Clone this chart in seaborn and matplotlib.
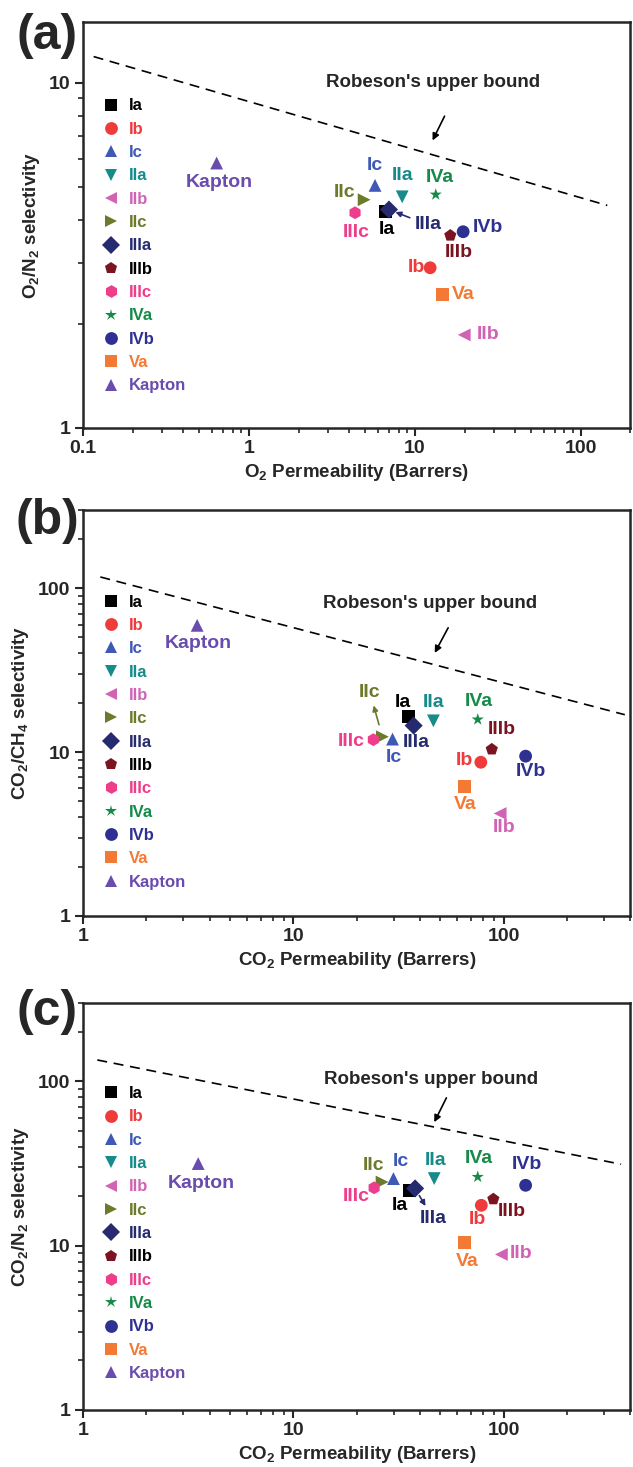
import numpy as np
import pandas as pd
import seaborn as sns
import matplotlib.pyplot as plt
from matplotlib import font_manager
from matplotlib.ticker import FuncFormatter, NullFormatter

names = ["Ia", "Ib", "Ic", "IIa", "IIb", "IIc", "IIIa", "IIIb", "IIIc", "IVa", "IVb", "Va", "Kapton"]
colors = ["#000000", "#ef3b3b", "#3d59b5", "#178a8a", "#d163b4", "#6b7b2b", "#262a6e",
          "#7a1420", "#ee3d8b", "#168a48", "#2e3192", "#f37a35", "#6a4cae"]
legend_colors = ["#000000", "#ef3b3b", "#3d59b5", "#178a8a", "#d163b4", "#6b7b2b", "#262a6e",
                 "#000000", "#ee3d8b", "#168a48", "#2e3192", "#f37a35", "#6a4cae"]
markers = ["s", "o", "^", "v", "<", ">", "D", "p", "h", "*", "o", "s", "^"]

# (a) O2 permeability (Barrers) vs O2/N2 selectivity
o2_perm = [6.7, 12.4, 5.77, 8.41, 19.9, 4.96, 7.0, 16.4, 4.37, 13.4, 19.6, 14.7, 0.64]
o2_n2_sel = [4.24, 2.91, 5.04, 4.67, 1.86, 4.58, 4.29, 3.61, 4.20, 4.74, 3.70, 2.43, 5.85]

# (b) CO2 permeability vs CO2/CH4 selectivity
co2_perm_b = [35.3, 77.8, 29.6, 46.3, 96.1, 26.5, 37.3, 87.7, 24.0, 75.2, 127, 65.3, 3.49]
co2_ch4_sel = [16.5, 8.67, 12.0, 15.5, 4.22, 12.4, 14.5, 10.4, 11.9, 15.8, 9.44, 6.20, 59.3]

# (c) CO2 permeability vs CO2/N2 selectivity
co2_perm_c = [35.5, 78.2, 29.9, 46.7, 97.4, 26.4, 37.9, 89.2, 24.2, 75.2, 127, 65.0, 3.53]
co2_n2_sel = [21.7, 17.6, 25.6, 25.6, 8.84, 24.4, 22.3, 19.2, 22.5, 26.2, 23.3, 10.5, 31.6]

# Robeson upper bound (end points of the dashed line)
bound_a_x, bound_a_y = [0.116, 145], [11.9, 4.41]
bound_b_x, bound_b_y = [1.21, 376], [117, 16.9]
bound_c_x, bound_c_y = [1.17, 361], [135, 31.3]

# label offsets in points (dx, dy) for each name, per panel
offs_a = [(1, -13), (-10, 0), (0, 14), (0, 15), (17, 0), (-14, 5), (28, -11),
          (6, -12), (1, -14), (3, 12), (18, 3), (15, 0), (2, -14)]
offs_b = [(-4, 10), (-12, 1), (1, -13), (0, 13), (3, -10), (-9, 32), (2, -12),
          (7, 14), (-16, -1), (1, 13), (4, -11), (0, -13), (1, -13)]
offs_c = [(-7, -11), (-3, -10), (5, 12), (1, 13), (14, 1), (-6, 12), (13, -22),
          (13, -9), (-13, -6), (1, 13), (1, 15), (2, -14), (2, -14)]

fam_avail = {f.name for f in font_manager.fontManager.ttflist}
fam = "Liberation Sans Narrow" if "Liberation Sans Narrow" in fam_avail else "Liberation Sans"

sns.set_style("ticks")
plt.rcParams["font.family"] = [fam, "DejaVu Sans"]
plt.rcParams["font.weight"] = "bold"
plt.rcParams["axes.labelweight"] = "bold"
plt.rcParams["mathtext.fontset"] = "custom"
plt.rcParams["mathtext.bf"] = fam + ":bold"
plt.rcParams["mathtext.rm"] = fam + ":bold"

fig = plt.figure(figsize=(6.33, 14.67), dpi=100)

palette = dict(zip(names, colors))
mk = dict(zip(names, markers))


def panel(rect, x, y, offs, xlim, ylim, xlabel, ylabel, bx, by, rob_txt, rob_arrow, extra_arrow, leg_y, letter, letter_y):
    ax = fig.add_axes(rect)
    df = pd.DataFrame({"perm": x, "sel": y, "name": names})
    sns.scatterplot(data=df, x="perm", y="sel", hue="name", style="name", hue_order=names,
                    style_order=names, palette=palette, markers=mk, s=85, linewidth=0, ax=ax)
    ax.set_xscale("log")
    ax.set_yscale("log")
    ax.set_xlim(*xlim)
    ax.set_ylim(*ylim)
    ax.plot(bx, by, color="black", lw=1.2, dashes=(6, 4))
    ax.text(rob_txt[0], rob_txt[1], "Robeson's upper bound", fontsize=13.5, ha="center", va="center")
    ax.annotate("", xy=rob_arrow[1], xytext=rob_arrow[0],
                arrowprops=dict(arrowstyle="-|>", color="black", lw=1.2, mutation_scale=10))
    for i, n in enumerate(names):
        tc = colors[i]
        if extra_arrow is not None and extra_arrow[0] == n:
            ax.annotate(n, (x[i], y[i]), xytext=offs[i], textcoords="offset points",
                        ha="center", va="center", fontsize=14, color=tc,
                        arrowprops=dict(arrowstyle=extra_arrow[1], color=tc, lw=1.2,
                                        mutation_scale=8, shrinkA=1, shrinkB=extra_arrow[2]))
        else:
            ax.annotate(n, (x[i], y[i]), xytext=offs[i], textcoords="offset points",
                        ha="center", va="center", fontsize=14, color=tc)
    sns.move_legend(ax, "upper left", bbox_to_anchor=(0.02, leg_y), title=None, frameon=False,
                    fontsize=12, handletextpad=0.5, labelspacing=0.5, borderaxespad=0,
                    handlelength=1.2, markerscale=1.0)
    leg = ax.get_legend()
    for t, c in zip(leg.get_texts(), legend_colors):
        t.set_color(c)
    ax.set_xlabel(xlabel, fontsize=13.5, labelpad=3)
    ax.set_ylabel(ylabel, fontsize=13.5, labelpad=5)
    fmt = FuncFormatter(lambda v, _: f"{v:g}")
    ax.xaxis.set_major_formatter(fmt)
    ax.yaxis.set_major_formatter(fmt)
    ax.xaxis.set_minor_formatter(NullFormatter())
    ax.yaxis.set_minor_formatter(NullFormatter())
    ax.tick_params(which="major", direction="out", length=6, width=1.5, labelsize=14, pad=3)
    ax.tick_params(which="minor", direction="out", length=3.5, width=1.2)
    for sp in ax.spines.values():
        sp.set_linewidth(1.8)
        sp.set_visible(True)
    fig.text(0.075, letter_y, letter, fontsize=36, fontweight="bold", ha="center", va="center")
    return ax


panel([0.131, 0.7083, 0.865, 0.2768], o2_perm, o2_n2_sel, offs_a, (0.1, 200), (1, 15),
      r"O$_\mathbf{2}$ Permeability (Barrers)", r"O$_\mathbf{2}$/N$_\mathbf{2}$ selectivity",
      bound_a_x, bound_a_y, (12.9, 9.98), ((15.4, 8.13), (12.6, 6.69)),
      ("IIIa", "-|>", 5), 0.828, "(a)", 0.9755)

panel([0.131, 0.3756, 0.865, 0.2768], co2_perm_b, co2_ch4_sel, offs_b, (1, 400), (1, 300),
      r"CO$_\mathbf{2}$ Permeability (Barrers)", r"CO$_\mathbf{2}$/CH$_\mathbf{4}$ selectivity",
      bound_b_x, bound_b_y, (44.5, 81), ((55.2, 59.3), (46.3, 38.9)),
      ("IIc", "<|-", 9), 0.808, "(b)", 1 - 521 / 1467)

panel([0.131, 0.0389, 0.865, 0.2774], co2_perm_c, co2_n2_sel, offs_c, (1, 400), (1, 300),
      r"CO$_\mathbf{2}$ Permeability (Barrers)", r"CO$_\mathbf{2}$/N$_\mathbf{2}$ selectivity",
      bound_c_x, bound_c_y, (45.3, 103), ((54.1, 82.2), (46.1, 54.5)),
      ("IIIa", "<|-", 6), 0.812, "(c)", 1 - 1012 / 1467)

fig.savefig("out.png", dpi=100)
